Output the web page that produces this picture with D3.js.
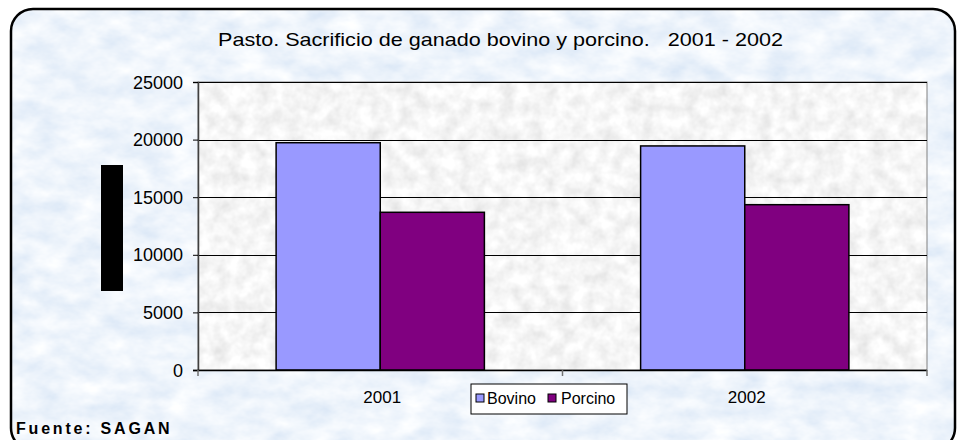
<!DOCTYPE html>
<html>
<head>
<meta charset="utf-8">
<script src="https://cdn.jsdelivr.net/npm/d3@7"></script>
<style>
  body { margin: 0; background: #fff; }
  svg { display: block; font-family: Arial, "Liberation Sans", sans-serif; }
</style>
</head>
<body>
<div id="chart"></div>
<script>
'use strict';

// data
const years = ["2001", "2002"];
const series = ["Bovino", "Porcino"];
const bovino = [19730, 19450];
const porcino = [13690, 14350];
const yTicks = [0, 5000, 10000, 15000, 20000, 25000];
const colors = ["#9999ff", "#800080"];

const width = 959, height = 440;
const plot = {left: 198, right: 927, top: 82, bottom: 370};

let svg = d3.select("#chart").append("svg")
    .attr("width", width)
    .attr("height", height);

// textures
let defs = svg.append("defs");
let blue = defs.append("filter").attr("id", "bluetex")
    .attr("x", 0).attr("y", 0).attr("width", "100%").attr("height", "100%");
blue.append("feTurbulence")
    .attr("type", "fractalNoise").attr("baseFrequency", "0.03 0.05")
    .attr("numOctaves", 4).attr("seed", 7);
blue.append("feColorMatrix").attr("type", "matrix")
    .attr("values", "0.4 0 0 0 0.66  0.28 0 0 0 0.77  0.12 0 0 0 0.91  0 0 0 0 1");

let gray = defs.append("filter").attr("id", "graytex")
    .attr("x", 0).attr("y", 0).attr("width", "100%").attr("height", "100%");
gray.append("feTurbulence")
    .attr("type", "fractalNoise").attr("baseFrequency", "0.07")
    .attr("numOctaves", 3).attr("seed", 2);
gray.append("feColorMatrix").attr("type", "matrix")
    .attr("values", "0.36 0 0 0 0.74  0.36 0 0 0 0.74  0.36 0 0 0 0.74  0 0 0 0 1");

let clip = defs.append("clipPath").attr("id", "frameclip");
clip.append("rect")
    .attr("x", 11).attr("y", 9).attr("width", 944).attr("height", 441).attr("rx", 22);

// outer frame
svg.append("rect")
    .attr("x", 11).attr("y", 9).attr("width", 944).attr("height", 441)
    .attr("clip-path", "url(#frameclip)")
    .attr("filter", "url(#bluetex)");
svg.append("rect")
    .attr("x", 11).attr("y", 9).attr("width", 944).attr("height", 441).attr("rx", 22)
    .attr("fill", "none").attr("stroke", "#000").attr("stroke-width", 2.5);

// title (the original is stretched sideways)
svg.append("text")
    .attr("x", 218).attr("y", 46)
    .attr("font-size", 19)
    .attr("fill", "#000")
    .attr("textLength", 565)
    .attr("lengthAdjust", "spacingAndGlyphs")
    .style("white-space", "pre")
    .text("Pasto. Sacrificio de ganado bovino y porcino.   2001 - 2002");

// scales
let y = d3.scaleLinear().domain([0, 25000]).range([plot.bottom, plot.top]);
let x0 = d3.scaleBand().domain(years).range([plot.left, plot.right]).padding(0);
let x1 = d3.scaleBand().domain(series).range([0, x0.bandwidth()])
    .paddingInner(0).paddingOuter(0.75);

// plot area
svg.append("rect")
    .attr("x", plot.left).attr("y", plot.top)
    .attr("width", plot.right - plot.left).attr("height", plot.bottom - plot.top)
    .attr("filter", "url(#graytex)");
svg.append("rect")
    .attr("x", plot.left).attr("y", plot.top)
    .attr("width", plot.right - plot.left).attr("height", plot.bottom - plot.top)
    .attr("fill", "none").attr("stroke", "#808080").attr("stroke-width", 1);

// gridlines
svg.append("g")
    .selectAll("line")
    .data(yTicks.filter(d => d > 0))
    .enter()
    .append("line")
    .attr("x1", plot.left).attr("x2", plot.right)
    .attr("y1", d => Math.round(y(d)) + 0.5).attr("y2", d => Math.round(y(d)) + 0.5)
    .attr("stroke", "#000").attr("stroke-width", 1);

// bars
let rows = years.map((yr, i) => ({year: yr, values: [bovino[i], porcino[i]]}));
svg.append("g")
    .selectAll("g")
    .data(rows)
    .enter()
    .append("g")
    .attr("transform", d => "translate(" + x0(d.year) + ",0)")
    .selectAll("rect")
    .data(d => d.values.map((v, j) => ({key: series[j], value: v, color: colors[j]})))
    .enter()
    .append("rect")
    .attr("x", d => x1(d.key))
    .attr("width", x1.bandwidth())
    .attr("y", d => y(d.value))
    .attr("height", d => y(0) - y(d.value))
    .attr("fill", d => d.color)
    .attr("stroke", "#000")
    .attr("stroke-width", 1.5);

// y axis
let yAxis = svg.append("g")
    .attr("transform", "translate(" + plot.left + ",0)")
    .call(d3.axisLeft(y).tickValues(yTicks).tickSize(5).tickPadding(10).tickFormat(d3.format("d")));
yAxis.select(".domain").attr("stroke", "#404040").attr("stroke-width", 1.5);
yAxis.selectAll(".tick line").attr("stroke", "#000");
yAxis.selectAll("text")
    .attr("font-size", 18)
    .attr("font-family", "Arial, 'Liberation Sans', sans-serif")
    .attr("fill", "#000")
    .attr("dy", "0.34em");

// x axis
let xAxis = svg.append("g")
    .attr("transform", "translate(0," + plot.bottom + ")");
xAxis.append("line")
    .attr("x1", plot.left - 5).attr("x2", plot.right)
    .attr("y1", 0.5).attr("y2", 0.5)
    .attr("stroke", "#000").attr("stroke-width", 1.5);
xAxis.selectAll(".sep")
    .data(years.map(d => x0(d)).concat([plot.right]))
    .enter()
    .append("line")
    .attr("class", "sep")
    .attr("x1", d => d).attr("x2", d => d)
    .attr("y1", 0).attr("y2", 6)
    .attr("stroke", "#707070").attr("stroke-width", 1.5);
xAxis.selectAll(".lbl")
    .data(years)
    .enter()
    .append("text")
    .attr("class", "lbl")
    .attr("x", d => x0(d) + x0.bandwidth() / 2 + 2)
    .attr("y", 33)
    .attr("text-anchor", "middle")
    .attr("font-size", 17)
    .attr("fill", "#000")
    .text(d => d);

// axis title (shown as a solid block in the original)
svg.append("rect")
    .attr("x", 101).attr("y", 165).attr("width", 22).attr("height", 126)
    .attr("fill", "#000");

// legend
let legend = svg.append("g").attr("transform", "translate(471,384)");
legend.append("rect")
    .attr("width", 156).attr("height", 30)
    .attr("fill", "#fff").attr("stroke", "#000").attr("stroke-width", 1);
let item = legend.selectAll(".item")
    .data(series)
    .enter()
    .append("g")
    .attr("class", "item")
    .attr("transform", (d, i) => "translate(" + (i === 0 ? 5 : 77) + ",0)");
item.append("rect")
    .attr("x", 0).attr("y", 10).attr("width", 8).attr("height", 8)
    .attr("fill", (d, i) => colors[i]).attr("stroke", "#000").attr("stroke-width", 1);
item.append("text")
    .attr("x", (d, i) => i === 0 ? 11 : 13)
    .attr("y", 20)
    .attr("font-size", 16)
    .attr("fill", "#000")
    .text(d => d);

// source note
svg.append("text")
    .attr("x", 16).attr("y", 434)
    .attr("font-size", 16)
    .attr("font-weight", "bold")
    .attr("letter-spacing", 2.8)
    .attr("fill", "#000")
    .text("Fuente: SAGAN");
</script>
</body>
</html>
